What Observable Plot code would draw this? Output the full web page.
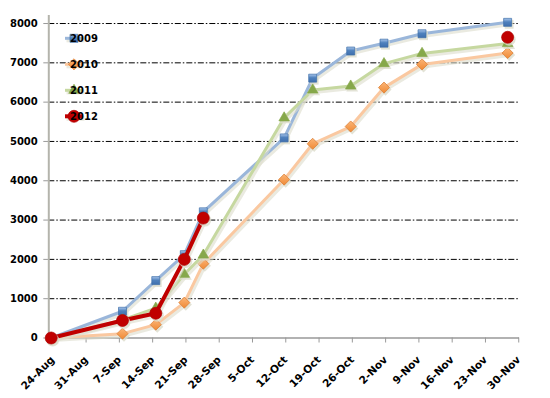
<!DOCTYPE html>
<html><head><meta charset="utf-8">
<script src="https://cdn.jsdelivr.net/npm/d3@7"></script>
<script src="https://cdn.jsdelivr.net/npm/@observablehq/plot@0.6"></script>
<style>body{margin:0;background:#fff}#chart{width:550px;height:398px}</style>
</head><body><div id="chart"></div>
<script>
// ---- data ----
const pointDates = ["2012-08-24","2012-09-08","2012-09-15","2012-09-21","2012-09-25","2012-10-12","2012-10-18","2012-10-26","2012-11-02","2012-11-10","2012-11-28"];
const s2009 = [0, 680, 1460, 2120, 3210, 5090, 6610, 7300, 7500, 7740, 8030];
const s2010 = [0, 110, 340, 900, 1890, 4030, 4940, 5380, 6370, 6960, 7250];
const s2011 = [0, 460, 760, 1620, 2110, 5600, 6310, 6410, 6980, 7240, 7490];
const s2012 = [0, 445, 630, 2000, 3050, null, null, null, null, null, 7650];
const seriesNames = ["2009", "2010", "2011", "2012"];
const yTicks = [0, 1000, 2000, 3000, 4000, 5000, 6000, 7000, 8000];
const xTickDates = ["2012-08-24","2012-08-31","2012-09-07","2012-09-14","2012-09-21","2012-09-28","2012-10-05","2012-10-12","2012-10-19","2012-10-26","2012-11-02","2012-11-09","2012-11-16","2012-11-23","2012-11-30"];
const xTickLabels = ["24-Aug","31-Aug","7-Sep","14-Sep","21-Sep","28-Sep","5-Oct","12-Oct","19-Oct","26-Oct","2-Nov","9-Nov","16-Nov","23-Nov","30-Nov"];

const seriesValues = [s2009, s2010, s2011, s2012];
const styles = [
  {line: "#9ab6da", lw: 3, symbol: "square", r: 4.5, fill: "url(#gBlue)", stroke: "#3d6ea8"},
  {line: "#fac8a0", lw: 3, symbol: "diamond2", r: 5, fill: "url(#gOrange)", stroke: "#d9782c"},
  {line: "#c6d8a0", lw: 3, symbol: "triangle", r: 3.9, fill: "#86a84a", stroke: "#86a84a"},
  {line: "#c00000", lw: 4, symbol: "circle", r: 6, fill: "#c00000", stroke: "#b00000"}
];
const shadowColor = "#dcdccc";

const parse = d3.utcParse("%Y-%m-%d");
const HALF_DAY = 12 * 3600 * 1000; // points sit in the middle of their day slot
const tickTimes = xTickDates.map(parse);
const labelByTime = new Map(tickTimes.map((d, i) => [+d, xTickLabels[i]]));

const rows = seriesNames.map((name, si) => pointDates.map((d, i) => ({
  series: name,
  date: new Date(+parse(d) + HALF_DAY),
  value: seriesValues[si][i]
})));

const xStart = parse("2012-08-24");
const xEnd = parse("2012-12-01");

const marks = [
  Plot.ruleY(yTicks.filter(v => v > 0), {y: d => d, stroke: "#000", strokeWidth: 1, strokeDasharray: "6,2,1.5,2"}),
  Plot.axisY({ticks: yTicks, tickSize: 5, tickPadding: 6, stroke: "#999", fill: "#000", fontWeight: "bold", fontSize: 10, label: null, tickFormat: d => String(d)}),
  Plot.axisX({ticks: tickTimes, tickSize: 5, tickPadding: 15, tickRotate: -45, stroke: "#999", fill: "#000", fontWeight: "bold", fontSize: 10.5, label: null, dx: 4, tickFormat: d => labelByTime.get(+d)}),
  Plot.ruleX([xStart], {x: d => d, stroke: "#b4b4ac", strokeWidth: 2}),
  Plot.ruleY([0], {y: d => d, stroke: "#999", strokeWidth: 1.5})
];
rows.forEach((data, si) => {
  const st = styles[si];
  const pts = data.filter(d => d.value != null);
  marks.push(Plot.line(data, {x: "date", y: "value", stroke: shadowColor, strokeOpacity: 0.6, strokeWidth: st.lw + 1, dx: 1.5, dy: 2, strokeLinejoin: "round"}));
  marks.push(Plot.line(data, {x: "date", y: "value", stroke: st.line, strokeWidth: st.lw, strokeLinejoin: "round", strokeLinecap: "round"}));
  marks.push(Plot.dot(pts, {x: "date", y: "value", symbol: st.symbol, r: st.r + 0.5, fill: shadowColor, fillOpacity: 0.8, dx: 1.5, dy: 2}));
  marks.push(Plot.dot(pts, {x: "date", y: "value", symbol: st.symbol, r: st.r, fill: st.fill, stroke: st.stroke, strokeWidth: 0.7}));
});

const chart = Plot.plot({
  width: 550, height: 398,
  marginLeft: 48.3, marginRight: 31, marginTop: 15, marginBottom: 60.5,
  style: {fontFamily: "DejaVu Sans", fontSize: "10px", background: "#fff"},
  x: {type: "utc", domain: [xStart, xEnd], axis: null},
  y: {domain: [0, 8204], axis: null},
  marks
});

const svg = d3.select(chart);
const defs = svg.insert("defs", ":first-child");
const gb = defs.append("linearGradient").attr("id", "gBlue").attr("x1", 0).attr("y1", 0).attr("x2", 0).attr("y2", 1);
gb.append("stop").attr("offset", "0").attr("stop-color", "#a9c6ec");
gb.append("stop").attr("offset", "0.45").attr("stop-color", "#4f81bd");
gb.append("stop").attr("offset", "1").attr("stop-color", "#3f6fae");
const go = defs.append("linearGradient").attr("id", "gOrange").attr("x1", 0).attr("y1", 0).attr("x2", 0).attr("y2", 1);
go.append("stop").attr("offset", "0").attr("stop-color", "#fbb577");
go.append("stop").attr("offset", "1").attr("stop-color", "#f08a35");

// legend (inside the plot, top-left)
const lg = svg.append("g").attr("font-family", "DejaVu Sans").attr("font-size", 10).attr("font-weight", "bold");
const symbolTypes = {square: d3.symbolSquare, diamond2: d3.symbolDiamond2, triangle: d3.symbolTriangle, circle: d3.symbolCircle};
seriesNames.forEach((name, i) => {
  const st = styles[i];
  const cy = 38.3 + i * 26;
  const sym = symbolTypes[st.symbol];
  lg.append("line").attr("x1", 66.5).attr("x2", 84.5).attr("y1", cy + 2).attr("y2", cy + 2).attr("stroke", shadowColor).attr("stroke-opacity", 0.6).attr("stroke-width", st.lw + 1);
  lg.append("line").attr("x1", 65).attr("x2", 83).attr("y1", cy).attr("y2", cy).attr("stroke", st.line).attr("stroke-width", st.lw);
  lg.append("path").attr("d", d3.symbol(sym, Math.PI * st.r * st.r)()).attr("transform", `translate(74,${cy})`).attr("fill", st.fill).attr("stroke", st.stroke).attr("stroke-width", 0.7);
  lg.append("text").attr("x", 84).attr("y", cy).attr("dy", "0.36em").attr("fill", "#000").text(name);
});

document.getElementById("chart").appendChild(chart);
</script>
</body></html>
